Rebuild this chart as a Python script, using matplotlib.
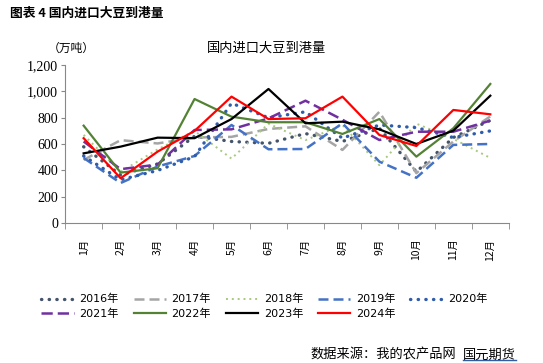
import matplotlib
matplotlib.use("Agg")
import matplotlib.pyplot as plt
from matplotlib.lines import Line2D
import numpy as np

plt.rcParams['font.family'] = ['Noto Sans CJK SC', 'DejaVu Sans']
plt.rcParams['axes.unicode_minus'] = False

# data (万吨)
months = ["1月", "2月", "3月", "4月", "5月", "6月", "7月", "8月", "9月", "10月", "11月", "12月"]
y2016 = [580, 365, 450, 660, 620, 606, 680, 620, 720, 390, 650, 780]
y2017 = [480, 630, 605, 650, 655, 715, 735, 556, 845, 380, 620, 810]
y2018 = [670, 390, 560, 700, 490, 755, 630, 745, 440, 755, 640, 495]
y2019 = [495, 305, 430, 510, 745, 561, 563, 758, 467, 345, 594, 601]
y2020 = [510, 330, 400, 505, 910, 800, 845, 645, 745, 725, 650, 700]
y2021 = [620, 410, 445, 707, 712, 795, 929, 785, 631, 694, 694, 778]
y2022 = [740, 384, 417, 942, 808, 766, 766, 677, 790, 505, 720, 1056]
y2023 = [530, 581, 649, 645, 790, 1018, 758, 770, 712, 601, 702, 967]
y2024 = [645, 341, 543, 700, 960, 790, 796, 960, 669, 586, 859, 826]

series = [
    ("2016年", y2016, dict(color="#44546A", lw=2.4, ls=(0, (0.1, 2.2)), dash_capstyle="round")),
    ("2017年", y2017, dict(color="#A5A5A5", lw=1.8, ls=(0, (4, 2)))),
    ("2018年", y2018, dict(color="#A9C97E", lw=1.4, ls=(0, (1, 2)))),
    ("2019年", y2019, dict(color="#4472C4", lw=1.8, ls=(0, (4, 2)))),
    ("2020年", y2020, dict(color="#2F5DAA", lw=2.4, ls=(0, (0.1, 2.2)), dash_capstyle="round")),
    ("2021年", y2021, dict(color="#7030A0", lw=1.8, ls=(0, (4.5, 2)))),
    ("2022年", y2022, dict(color="#548235", lw=1.6, ls="-")),
    ("2023年", y2023, dict(color="#000000", lw=1.6, ls="-")),
    ("2024年", y2024, dict(color="#FF0000", lw=1.6, ls="-")),
]

fig = plt.figure(figsize=(5.43, 3.63), dpi=100)
ax = fig.add_axes([0.12, 0.385, 0.817, 0.436])

x = np.arange(len(months))
handles = []
for name, vals, st in series:
    h, = ax.plot(x, vals, label=name, **st)
    handles.append(h)

ax.set_xlim(-0.5, len(months) - 0.5)
ax.set_ylim(0, 1200)
ax.set_yticks(range(0, 1201, 200))
ax.set_yticklabels([f"{v:,}" for v in range(0, 1201, 200)],
                   family="Liberation Serif", fontsize=10)
ax.set_xticks(x)
ax.set_xticklabels(months, rotation=90, fontsize=7.5)
ax.set_xticks(np.arange(-0.5, len(months)), minor=True)
ax.tick_params(axis="x", which="major", length=0, pad=11)
ax.tick_params(axis="x", which="minor", length=4, color="#888888")
ax.tick_params(axis="y", length=3, color="#888888", pad=2)
for s in ["top", "right"]:
    ax.spines[s].set_visible(False)
for s in ["left", "bottom"]:
    ax.spines[s].set_color("#888888")

fig.text(0.018, 0.965, "图表 4 国内进口大豆到港量", fontsize=9.2, fontweight="bold", va="center")
fig.text(0.49, 0.868, "国内进口大豆到港量", fontsize=9.5, ha="center", va="center")
fig.text(0.088, 0.868, "（万吨）", fontsize=8.5, ha="left", va="center")

order = [0, 5, 1, 6, 2, 7, 3, 8, 4]
fig.legend([handles[i] for i in order], [series[i][0] for i in order],
           ncol=5, loc="center", bbox_to_anchor=(0.487, 0.156), frameon=False,
           handlelength=2.9, handletextpad=0.5, columnspacing=1.35,
           labelspacing=0.35, prop={"family": ["DejaVu Sans", "Noto Sans CJK SC"], "size": 8})

src2 = fig.text(0.95, 0.022, "国元期货", fontsize=9.5, ha="right", va="center")
fig.canvas.draw()
bb = src2.get_window_extent().transformed(fig.transFigure.inverted())
fig.text(bb.x0 - 0.012, 0.022, "数据来源：我的农产品网", fontsize=9.5, ha="right", va="center")
fig.add_artist(Line2D([bb.x0, bb.x1], [bb.y0 + 0.004, bb.y0 + 0.004],
                      transform=fig.transFigure, color="#2F5DAA", lw=1))

fig.savefig("out.png", dpi=100)
